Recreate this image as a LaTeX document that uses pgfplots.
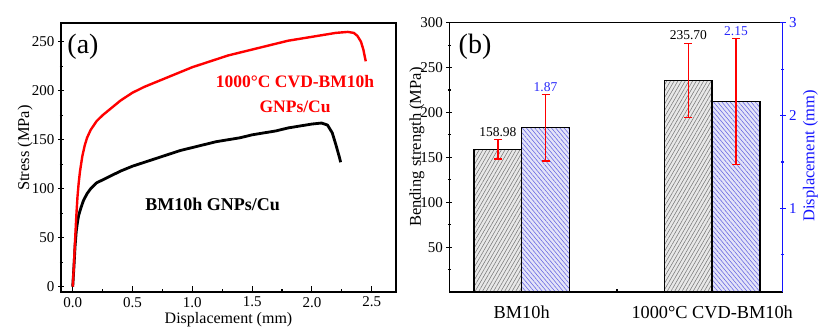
\documentclass[border=0pt]{standalone}
\usepackage{pgfplots}
\pgfplotsset{compat=1.18}
\usepackage{fontspec}
\setmainfont{Liberation Serif}
\usetikzlibrary{patterns.meta}

\definecolor{curvered}{RGB}{255,0,0}
\definecolor{axisblue}{RGB}{20,20,255}
\definecolor{labelblue}{RGB}{40,40,250}
\definecolor{greyfill}{RGB}{232,232,232}
\definecolor{greyhatch}{RGB}{120,120,120}
\definecolor{bluefill}{RGB}{228,228,248}
\definecolor{bluehatch}{RGB}{100,100,225}

\newcommand{\labelfont}{\fontsize{16.5bp}{19bp}\selectfont}

\pgfplotsset{
  common/.style={
    scale only axis,
    axis line style={line width=1.5bp},
    tick style={line width=1.1bp, black},
    major tick length=6bp,
    minor tick length=3bp,
    tick align=inside,
    ytick align=center,
    /pgf/number format/assume math mode=true,
    tick label style={font=\fontsize{15bp}{17bp}\selectfont},
  }
}

\begin{document}
\begin{tikzpicture}[x=1bp,y=1bp]
\useasboundingbox (0,0) rectangle (819,327);

% ---------------- (a) stress-displacement curves ----------------
\begin{axis}[common,
  at={(61bp,35bp)}, anchor=south west,
  width=335bp, height=269bp,
  xmin=-0.098, xmax=2.703, ymin=-5.4, ymax=269.1,
  xtick={0,0.5,...,2.5}, minor x tick num=1,
  ytick={0,50,...,250}, minor y tick num=1,
  xtick pos=bottom, ytick pos=left,
  xticklabel style={yshift=-1.5bp, /pgf/number format/.cd, fixed, fixed zerofill, precision=1},
  xlabel={Displacement (mm)},
  ylabel={Stress (MPa)},
  every axis x label/.style={at={(axis description cs:0.5,-0.0765)}, anchor=north, inner sep=0pt, font=\fontsize{16bp}{18bp}\selectfont},
  every axis y label/.style={at={(axis description cs:-0.107,0.535)}, rotate=90, anchor=center, font=\labelfont},
]
\addplot[black, line width=2.8bp, line join=round] coordinates {
 (0,0) (0.01,20) (0.02,42) (0.03,57) (0.04,66) (0.05,73) (0.07,81) (0.09,88)
 (0.12,95) (0.15,100) (0.2,106) (0.3,112) (0.4,118) (0.5,123) (0.6,127)
 (0.7,131) (0.8,135) (0.9,139) (1.0,142) (1.1,145) (1.2,148) (1.3,150)
 (1.4,152) (1.5,155) (1.6,157) (1.7,159) (1.8,162) (1.9,164) (2.0,166)
 (2.08,167) (2.13,165) (2.17,157) (2.2,145) (2.23,132) (2.24,127)
};
\addplot[curvered, line width=2.4bp, line join=round] coordinates {
 (0,0) (0.01,22) (0.02,48) (0.03,72) (0.04,92) (0.05,106) (0.06,117)
 (0.08,133) (0.1,144) (0.12,152) (0.15,160) (0.2,169) (0.25,175) (0.3,180)
 (0.4,190) (0.5,198) (0.6,204) (0.7,209) (0.8,214) (0.9,219) (1.0,224)
 (1.1,228) (1.2,232) (1.3,236) (1.4,239) (1.5,242) (1.6,245) (1.7,248)
 (1.8,251) (1.9,253) (2.0,255) (2.1,257) (2.2,259) (2.3,260) (2.35,259)
 (2.38,256) (2.41,250) (2.43,242) (2.45,230)
};
\node[font=\fontsize{28bp}{30bp}\selectfont] at (axis cs:0.086,244.6) {(a)};
\node[font=\fontsize{17.5bp}{24.5bp}\selectfont\bfseries, text=curvered, align=center]
  at (axis cs:1.859,196.6) {1000°C CVD-BM10h\\GNPs/Cu};
\node[font=\fontsize{18bp}{20bp}\selectfont\bfseries] at (axis cs:1.169,83.9) {BM10h GNPs/Cu};
\end{axis}

% ---------------- (b) bending strength and displacement ----------------
\begin{axis}[common,
  at={(449.3bp,35bp)}, anchor=south west,
  width=333.4bp, height=269.3bp,
  xmin=0.62, xmax=2.37, ymin=0, ymax=300,
  xtick={1,2}, xticklabels={BM10h, 1000°C CVD-BM10h},
  minor xtick={1.5},
  ytick={50,100,...,300}, minor ytick={25,75,...,275},
  xtick pos=bottom, ytick pos=left,
  xticklabel style={font=\fontsize{18.3bp}{20bp}\selectfont, yshift=-10bp},
  ylabel={Bending strength (MPa)},
  every axis y label/.style={at={(axis description cs:-0.097,0.538)}, rotate=90, anchor=center, font=\labelfont},
]
\addplot[ybar, bar width=0.25, bar shift=0, draw=black, line width=1.5bp,
  fill=greyfill,
  postaction={pattern={Lines[angle=60,distance=3.2bp,line width=0.55bp]}, pattern color=greyhatch},
  error bars/.cd, y dir=both, y explicit,
  error bar style={curvered, line width=1.4bp},
  error mark options={curvered, line width=1.4bp, mark size=4bp, rotate=90}]
  table[x=x, y=y, y error=e] {
  x      y       e
  0.875  158.98  11
  1.875  235.70  41
};
\node[font=\fontsize{13.5bp}{15bp}\selectfont] at (axis cs:0.875,177.9) {158.98};
\node[font=\fontsize{13.5bp}{15bp}\selectfont] at (axis cs:1.875,286.3) {235.70};
\node[font=\fontsize{28bp}{30bp}\selectfont] at (axis cs:0.755,273) {(b)};
\end{axis}

\begin{axis}[common,
  at={(449.3bp,35bp)}, anchor=south west,
  width=333.4bp, height=269.3bp,
  xmin=0.62, xmax=2.37, ymin=0.1, ymax=3,
  axis x line=none, axis y line*=right,
  y axis line style={axisblue, line width=1.5bp},
  ytick={1,2,3}, minor ytick={0.5,1.5,2.5},
  ytick style={axisblue, line width=1.1bp},
  yticklabel style={text=axisblue},
  ylabel={Displacement (mm)},
  every axis y label/.style={at={(axis description cs:1.083,0.505)}, rotate=90, anchor=center, font=\labelfont, text=axisblue},
]
\addplot[ybar, bar width=0.25, bar shift=0, draw=black, line width=1.5bp,
  fill=bluefill,
  postaction={pattern={Lines[angle=-50,distance=3.2bp,line width=0.55bp]}, pattern color=bluehatch},
  error bars/.cd, y dir=both, y explicit,
  error bar style={curvered, line width=1.4bp},
  error mark options={curvered, line width=1.4bp, mark size=4bp, rotate=90}]
  table[x=x, y=y, y error=e] {
  x      y     e
  1.125  1.87  0.36
  2.125  2.15  0.68
};
\node[font=\fontsize{13.5bp}{15bp}\selectfont, text=labelblue] at (axis cs:1.125,2.31) {1.87};
\node[font=\fontsize{13.5bp}{15bp}\selectfont, text=labelblue] at (axis cs:2.125,2.91) {2.15};
\end{axis}
\end{tikzpicture}
\end{document}
